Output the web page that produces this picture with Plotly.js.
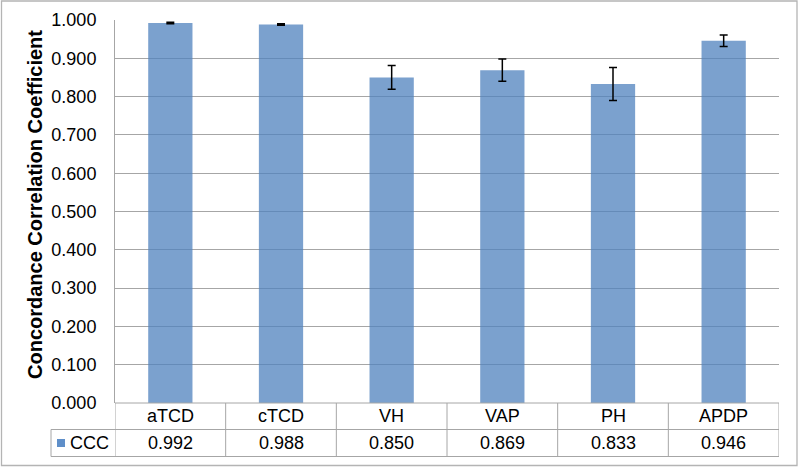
<!DOCTYPE html>
<html><head><meta charset="utf-8">
<script src="https://cdn.plot.ly/plotly-3.0.1.min.js"></script>
<style>html,body{margin:0;padding:0;background:#fff}</style>
</head><body><div id="chart" style="width:800px;height:467px"></div>
<script>
// ---- data ----
const categories = ['aTCD', 'cTCD', 'VH', 'VAP', 'PH', 'APDP'];
const cccValues = [0.992, 0.988, 0.850, 0.869, 0.833, 0.946];
const cccErrors = [0.002, 0.002, 0.031, 0.029, 0.043, 0.015];
const seriesName = 'CCC';
const yTickValues = [0, 0.1, 0.2, 0.3, 0.4, 0.5, 0.6, 0.7, 0.8, 0.9, 1.0];
const yTitle = 'Concordance Correlation Coefficient';

// ---- layout helpers (pixel -> paper) ----
const L = 115, R = 779, T = 20, B = 403;
const px = x => (x - L) / (R - L);
const py = y => (B - y) / (B - T);
const FONT = 'Liberation Sans, Arial, sans-serif';
const GRID = '#a6a6a6';
const BAR = 'rgba(79,129,189,0.75)';

const trace = {
  type: 'bar',
  x: categories,
  y: cccValues,
  name: seriesName,
  marker: {color: BAR, line: {width: 0}},
  error_y: {type: 'data', array: cccErrors, visible: true, color: '#000', thickness: 1.5, width: 4},
  hoverinfo: 'x+y'
};

const shapes = [];
const lineStyle = {color: GRID, width: 1};
// table horizontal lines
shapes.push({type: 'line', xref: 'paper', yref: 'paper', x0: 0, x1: 1, y0: py(403), y1: py(403), line: lineStyle});
shapes.push({type: 'line', xref: 'paper', yref: 'paper', x0: px(51), x1: 1, y0: py(429.5), y1: py(429.5), line: lineStyle});
shapes.push({type: 'line', xref: 'paper', yref: 'paper', x0: px(51), x1: 1, y0: py(456.5), y1: py(456.5), line: lineStyle});
// table vertical lines (category boundaries)
for (let i = 0; i <= categories.length; i++) {
  shapes.push({type: 'line', xref: 'x', yref: 'paper', x0: i - 0.5, x1: i - 0.5, y0: py(403), y1: py(456.5), line: lineStyle});
}
shapes.push({type: 'line', xref: 'paper', yref: 'paper', x0: px(51), x1: px(51), y0: py(429.5), y1: py(456.5), line: lineStyle});
// legend key square
shapes.push({type: 'rect', xref: 'paper', yref: 'paper', x0: px(57), x1: px(65), y0: py(447), y1: py(439), fillcolor: '#5f8fc9', line: {width: 0}});
// outer chart border
shapes.push({type: 'rect', xref: 'paper', yref: 'paper', x0: px(1.5), x1: px(797), y0: py(465.5), y1: py(1), line: {color: '#b4b4b4', width: 1.3}, fillcolor: 'rgba(0,0,0,0)'});

const annotations = [];
categories.forEach((c, i) => {
  annotations.push({x: c, xref: 'x', y: py(416.5), yref: 'paper', text: c, showarrow: false,
    xanchor: 'center', yanchor: 'middle', font: {family: FONT, size: 18, color: '#000'}});
  annotations.push({x: c, xref: 'x', y: py(443.5), yref: 'paper', text: cccValues[i].toFixed(3), showarrow: false,
    xanchor: 'center', yanchor: 'middle', font: {family: FONT, size: 18, color: '#000'}});
});
annotations.push({x: px(68), xref: 'paper', y: py(443.5), yref: 'paper', text: seriesName, showarrow: false,
  xanchor: 'left', yanchor: 'middle', font: {family: FONT, size: 18, color: '#000'}});
annotations.push({x: px(35), xref: 'paper', y: py(205), yref: 'paper', text: '<b>' + yTitle + '</b>', showarrow: false,
  textangle: -90, xanchor: 'center', yanchor: 'middle', font: {family: FONT, size: 20, color: '#000'}});

const layout = {
  width: 800, height: 467,
  margin: {l: L, r: 800 - R, t: T, b: 467 - B, pad: 0},
  paper_bgcolor: '#fff', plot_bgcolor: '#fff',
  showlegend: false,
  bargap: 0.6,
  font: {family: FONT, size: 18, color: '#000'},
  xaxis: {type: 'category', range: [-0.5, categories.length - 0.5], showticklabels: false, showgrid: false,
    zeroline: false, showline: false, ticks: '', fixedrange: true},
  yaxis: {range: [0, 1], tickvals: yTickValues, tickformat: '.3f', showgrid: true, gridcolor: GRID, gridwidth: 1,
    zeroline: false, showline: true, linecolor: GRID, linewidth: 1, ticks: '', ticklabelstandoff: 14,
    tickfont: {family: FONT, size: 18, color: '#000'}, fixedrange: true, automargin: false},
  shapes: shapes,
  annotations: annotations
};

Plotly.newPlot('chart', [trace], layout, {displayModeBar: false, staticPlot: true});
</script>
</body></html>
